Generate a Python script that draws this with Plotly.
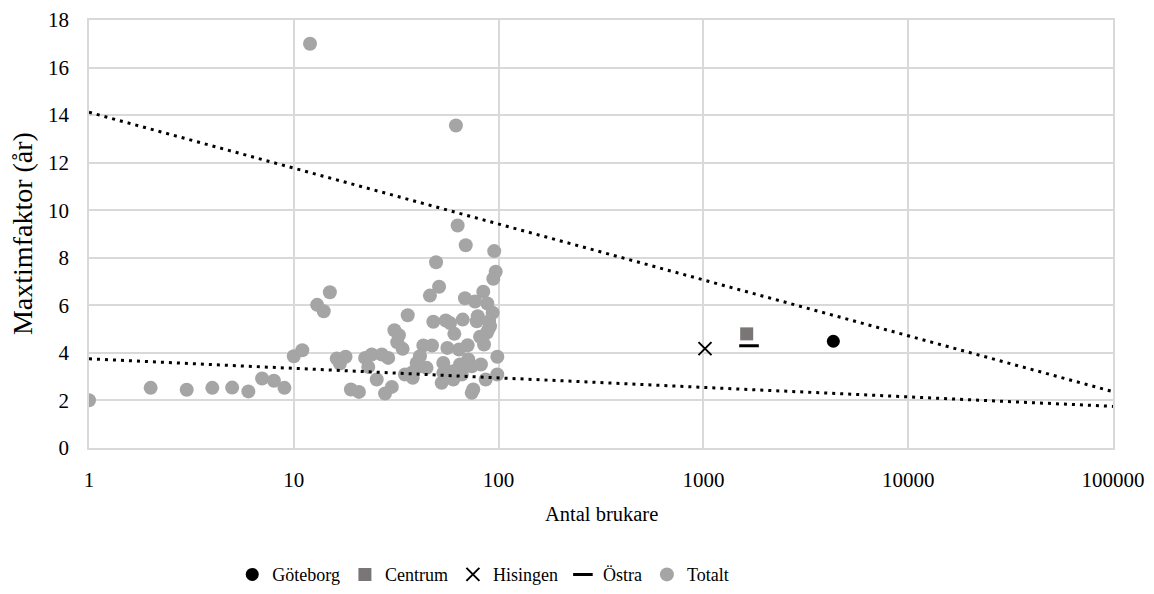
import numpy as np
import plotly.graph_objects as go

# ---------------- data ----------------
totalt_x = [1, 2, 3, 4, 5, 6, 7, 8, 9, 10, 11, 12, 13, 14, 15,
            61.9, 63.1, 69.1, 95.2, 96.8, 94.2, 49.5, 51.2, 46.2, 84.2,
            68.5, 76.7, 88.1, 93.5, 79.1, 66.8, 48.0, 55.2, 57.9, 78.2,
            89.8, 90.8, 89.1, 81.2, 60.8, 84.9, 36.0, 31.0, 32.6, 32.0,
            34.0, 42.9, 47.3, 56.2, 64.1, 70.6, 98.6, 41.3, 39.8, 53.7,
            71.1, 64.8, 82.0, 16.2, 17.9, 16.8, 22.3, 24.0, 26.9, 28.9,
            23.1, 25.4, 19.0, 20.8, 27.9, 30.1, 34.9, 38.1, 41.3, 44.5,
            53.7, 52.7, 60.1, 66.1, 75.2, 73.9, 86.5, 98.5, 37.6, 60.1,
            55.8, 59.0, 73.9, 87.5]
totalt_y = [2.01, 2.53, 2.45, 2.53, 2.54, 2.38, 2.92, 2.83, 2.53, 3.86, 4.11, 17.0, 6.02, 5.75, 6.55,
            13.56, 9.36, 8.53, 8.28, 7.41, 7.12, 7.81, 6.78, 6.41, 6.57,
            6.30, 6.16, 6.08, 5.69, 5.54, 5.40, 5.31, 5.36, 5.26, 5.33,
            5.33, 5.12, 4.98, 4.68, 4.80, 4.35, 5.58, 4.95, 4.74, 4.45,
            4.17, 4.31, 4.31, 4.21, 4.14, 4.32, 3.84, 3.86, 3.58, 3.58,
            3.72, 3.51, 3.51, 3.76, 3.84, 3.55, 3.79, 3.93, 3.93, 3.79,
            3.41, 2.88, 2.46, 2.36, 2.29, 2.57, 3.09, 2.95, 3.44, 3.37,
            3.16, 2.74, 2.88, 3.09, 2.46, 2.32, 2.88, 3.09, 3.16, 3.23,
            3.02, 2.95, 3.44, 4.84]

goteborg_x = [4310]
goteborg_y = [4.49]
centrum_x = [1627]
centrum_y = [4.80]
hisingen_x = [1018]
hisingen_y = [4.18]
ostra_x = [1670]
ostra_y = [4.30]

# logarithmic trend lines: y = a + b*log10(x)
trend_upper = [14.12, -2.35]
trend_lower = [3.75, -0.40]
trend_x_range = [1, 100000]

x_tickvals = [1, 10, 100, 1000, 10000, 100000]
x_ticktext = ["1", "10", "100", "1000", "10000", "100000"]
y_tickvals = [0, 2, 4, 6, 8, 10, 12, 14, 16, 18]

x_title = "Antal brukare"
y_title = "Maxtimfaktor (år)"

FONT = "Liberation Serif, Times New Roman, serif"
GRID = "#D9D9D9"

fig = go.Figure()
fig.add_trace(go.Scatter(x=goteborg_x, y=goteborg_y, mode="markers", name="Göteborg",
                         marker=dict(symbol="circle", size=13, color="#000000")))
fig.add_trace(go.Scatter(x=centrum_x, y=centrum_y, mode="markers", name="Centrum",
                         marker=dict(symbol="square", size=13, color="#7A7676")))
fig.add_trace(go.Scatter(x=hisingen_x, y=hisingen_y, mode="markers", name="Hisingen",
                         marker=dict(symbol="x-thin", size=13, color="#000000",
                                     line=dict(width=2, color="#000000"))))
fig.add_trace(go.Scatter(x=ostra_x, y=ostra_y, mode="markers", name="Östra",
                         marker=dict(symbol="line-ew", size=14, color="#000000",
                                     line=dict(width=3, color="#000000"))))
fig.add_trace(go.Scatter(x=totalt_x, y=totalt_y, mode="markers", name="Totalt",
                         marker=dict(symbol="circle", size=14, color="#A5A5A5")))

tx = np.array(trend_x_range, dtype=float)
for a, b in (trend_upper, trend_lower):
    fig.add_trace(go.Scatter(x=tx, y=a + b * np.log10(tx), mode="lines", showlegend=False,
                             hoverinfo="skip",
                             line=dict(color="#000000", width=3, dash="3px,5px")))

fig.update_layout(
    width=1154, height=594,
    margin=dict(l=89, r=41, t=20, b=146, autoexpand=False),
    paper_bgcolor="white", plot_bgcolor="white",
    font=dict(family=FONT, color="#000000", size=21),
    showlegend=True,
    legend=dict(orientation="h", x=0.385, xanchor="center", y=-0.296, yanchor="middle",
                font=dict(size=18, family=FONT), itemwidth=30, bgcolor="rgba(0,0,0,0)"),
    annotations=[
        dict(text=x_title, xref="paper", yref="paper", x=0.5, y=-0.155,
             xanchor="center", yanchor="middle", showarrow=False,
             font=dict(size=20.5, family=FONT, color="#000000")),
        dict(text=y_title, xref="paper", yref="paper", x=-0.0654, y=0.5,
             xanchor="center", yanchor="middle", showarrow=False, textangle=-90,
             font=dict(size=28, family=FONT, color="#000000")),
    ],
)
fig.update_xaxes(type="log", range=[0, 5], tickvals=x_tickvals, ticktext=x_ticktext,
                 showgrid=True, gridcolor=GRID, gridwidth=1.5, automargin=False,
                 showline=True, linecolor=GRID, linewidth=1.5, mirror=True,
                 ticks="", ticklabelstandoff=12, zeroline=False,
                 tickfont=dict(size=21, family=FONT))
fig.update_yaxes(range=[0, 18], tickvals=y_tickvals, automargin=False,
                 showgrid=True, gridcolor=GRID, gridwidth=1.5,
                 showline=True, linecolor=GRID, linewidth=1.5, mirror=True,
                 ticks="", ticklabelstandoff=14, zeroline=False,
                 tickfont=dict(size=21, family=FONT))

fig.write_html("out.html")
